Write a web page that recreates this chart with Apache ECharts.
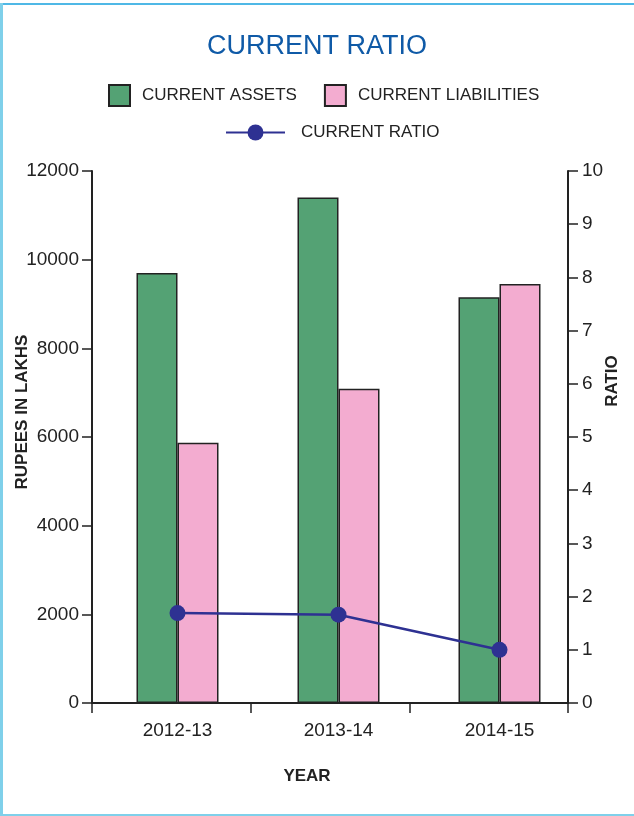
<!DOCTYPE html>
<html>
<head>
<meta charset="utf-8">
<script src="https://cdn.jsdelivr.net/npm/echarts@6/dist/echarts.min.js"></script>
<style>
  html, body { margin: 0; padding: 0; background: #ffffff; }
  #chart { width: 634px; height: 816px; }
</style>
</head>
<body>
<div id="chart"></div>
<script>
// Financial years on the category axis
const years = ['2012-13', '2013-14', '2014-15'];
// Rupees in lakhs
const currentAssets = [9700, 11400, 9150];
const currentLiabilities = [5870, 7090, 9450];
// Current ratio (right axis)
const currentRatio = [1.69, 1.66, 1.0];
// Tick settings of the two value axes
const rupeeTicks = { min: 0, max: 12000, interval: 2000 };
const ratioTicks = { min: 0, max: 10, interval: 1 };

const FONT = 'Liberation Sans, Arial, Helvetica, sans-serif';
const INK = '#222222';
const GREEN = '#54a274';
const PINK = '#f3acd0';
const NAVY = '#2e3192';

const chart = echarts.init(document.getElementById('chart'), null, { renderer: 'canvas' });

const axisLine = { show: true, lineStyle: { color: INK, width: 2 } };
const axisTick = { show: true, length: 10, lineStyle: { color: INK, width: 1.5 } };
const plain = (v) => String(v);

chart.setOption({
  backgroundColor: '#ffffff',
  animation: false,
  title: {
    text: 'CURRENT RATIO',
    left: 'center',
    top: 28,
    textStyle: { fontFamily: FONT, fontSize: 27, fontWeight: 'normal', color: '#0f5aa7' }
  },
  legend: [
    {
      data: ['CURRENT ASSETS', 'CURRENT LIABILITIES'],
      left: 108,
      top: 84,
      padding: 0,
      icon: 'rect',
      itemWidth: 21,
      itemHeight: 21,
      itemGap: 27,
      textStyle: { fontFamily: FONT, fontSize: 17, color: INK, padding: [0, 0, 0, 7] }
    },
    {
      data: ['CURRENT RATIO'],
      left: 225,
      top: 124,
      padding: 0,
      itemWidth: 59,
      itemHeight: 20,
      textStyle: { fontFamily: FONT, fontSize: 17, color: INK, padding: [0, 0, 0, 11] }
    }
  ],
  grid: [
    // frame holding the two value axes and the year axis line
    { left: 92, right: 66, top: 171, bottom: 113, containLabel: false },
    // plotting area for bars and the ratio line
    { left: 97, right: 54, top: 171, bottom: 113, containLabel: false }
  ],
  xAxis: [
    {
      type: 'category', gridIndex: 0, data: years,
      axisLine: axisLine,
      axisTick: { show: true, length: 10, lineStyle: { color: INK, width: 1.5 } },
      axisLabel: { show: false },
      splitLine: { show: false }
    },
    {
      type: 'category', gridIndex: 1, data: years,
      axisLine: { show: false },
      axisTick: { show: false },
      axisLabel: { fontFamily: FONT, fontSize: 19, color: INK, margin: 18 },
      splitLine: { show: false }
    }
  ],
  yAxis: [
    {
      type: 'value', gridIndex: 0, position: 'left',
      min: rupeeTicks.min, max: rupeeTicks.max, interval: rupeeTicks.interval,
      axisLine: axisLine, axisTick: axisTick,
      axisLabel: { fontFamily: FONT, fontSize: 19, color: INK, margin: 13, formatter: plain },
      splitLine: { show: false }
    },
    {
      type: 'value', gridIndex: 0, position: 'right',
      min: ratioTicks.min, max: ratioTicks.max, interval: ratioTicks.interval,
      axisLine: axisLine, axisTick: axisTick,
      axisLabel: { fontFamily: FONT, fontSize: 19, color: INK, margin: 14, formatter: plain },
      splitLine: { show: false }
    },
    {
      type: 'value', gridIndex: 1, show: false,
      min: rupeeTicks.min, max: rupeeTicks.max, interval: rupeeTicks.interval,
      splitLine: { show: false }
    },
    {
      type: 'value', gridIndex: 1, show: false,
      min: ratioTicks.min, max: ratioTicks.max, interval: ratioTicks.interval,
      splitLine: { show: false }
    }
  ],
  series: [
    {
      name: 'CURRENT ASSETS', type: 'bar', xAxisIndex: 1, yAxisIndex: 2,
      data: currentAssets, barWidth: 41, barGap: '0%',
      itemStyle: { color: GREEN, borderColor: INK, borderWidth: 1.5 }
    },
    {
      name: 'CURRENT LIABILITIES', type: 'bar', xAxisIndex: 1, yAxisIndex: 2,
      data: currentLiabilities, barWidth: 41, barGap: '0%',
      itemStyle: { color: PINK, borderColor: INK, borderWidth: 1.5 }
    },
    {
      name: 'CURRENT RATIO', type: 'line', xAxisIndex: 1, yAxisIndex: 3,
      data: currentRatio, z: 5,
      symbol: 'circle', symbolSize: 16,
      lineStyle: { color: NAVY, width: 2.5 },
      itemStyle: { color: NAVY }
    }
  ],
  graphic: [
    // page frame strokes
    { type: 'rect', shape: { x: 0, y: 3, width: 634, height: 2 }, style: { fill: '#4fb8e6' }, silent: true },
    { type: 'rect', shape: { x: 0, y: 3, width: 3, height: 813 }, style: { fill: '#7fd0ea' }, silent: true },
    { type: 'rect', shape: { x: 0, y: 814, width: 634, height: 2 }, style: { fill: '#7fd0ea' }, silent: true },
    // axis titles
    {
      type: 'text', x: 22, y: 412, rotation: Math.PI / 2,
      style: { text: 'RUPEES IN LAKHS', fontFamily: FONT, fontSize: 17, fontWeight: 'bold', fill: INK, align: 'center', verticalAlign: 'middle' }
    },
    {
      type: 'text', x: 612, y: 381, rotation: Math.PI / 2,
      style: { text: 'RATIO', fontFamily: FONT, fontSize: 17, fontWeight: 'bold', fill: INK, align: 'center', verticalAlign: 'middle' }
    },
    {
      type: 'text', x: 307, y: 776,
      style: { text: 'YEAR', fontFamily: FONT, fontSize: 17, fontWeight: 'bold', fill: INK, align: 'center', verticalAlign: 'middle' }
    }
  ]
});
</script>
</body>
</html>
